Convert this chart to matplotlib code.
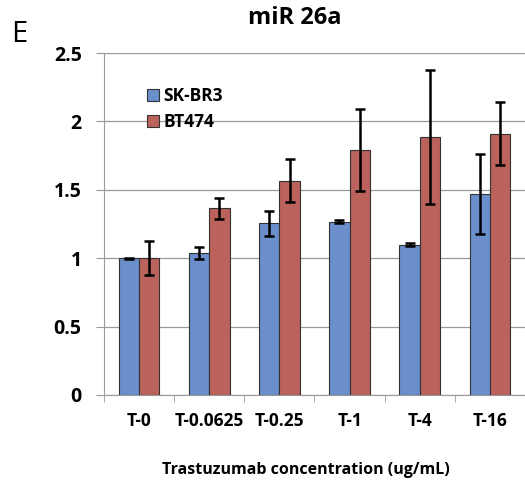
import numpy as np
import matplotlib
matplotlib.use("Agg")
import matplotlib.pyplot as plt

categories = ["T-0", "T-0.0625", "T-0.25", "T-1", "T-4", "T-16"]
skbr3 = [1.00, 1.04, 1.255, 1.267, 1.10, 1.47]
skbr3_err = [0.005, 0.045, 0.09, 0.01, 0.01, 0.29]
bt474 = [1.00, 1.365, 1.567, 1.79, 1.884, 1.91]
bt474_err = [0.125, 0.075, 0.155, 0.30, 0.49, 0.23]
yticks = [0, 0.5, 1, 1.5, 2, 2.5]
ytick_labels = ["0", "0.5", "1", "1.5", "2", "2.5"]

plt.rcParams['font.family'] = ['Open Sans', 'DejaVu Sans']

fig = plt.figure(figsize=(5.25, 4.82), dpi=100)
ax = fig.add_axes([0.198, 0.1805, 0.802, 0.7095])

x = np.arange(len(categories))
w = 0.29
ax.bar(x - w / 2, skbr3, w, color="#6b8fcb", edgecolor="#333333", linewidth=0.8,
       yerr=skbr3_err, capsize=3.5, error_kw={"elinewidth": 1.8, "capthick": 1.8, "ecolor": "black"},
       label="SK-BR3", zorder=3)
ax.bar(x + w / 2, bt474, w, color="#ba625b", edgecolor="#333333", linewidth=0.8,
       yerr=bt474_err, capsize=3.5, error_kw={"elinewidth": 1.8, "capthick": 1.8, "ecolor": "black"},
       label="BT474", zorder=3)

ax.set_xlim(-0.5, len(categories) - 0.5)
ax.set_ylim(0, 2.5)
ax.set_yticks(yticks)
ax.set_yticklabels(ytick_labels, fontsize=14, fontweight="bold")
ax.yaxis.grid(True, color="#999999", linewidth=0.9, zorder=0)
ax.set_axisbelow(True)

ax.set_xticks(x)
ax.set_xticklabels(categories, fontsize=12.5, fontweight="bold")
ax.set_xticks(np.arange(len(categories) + 1) - 0.5, minor=True)
ax.tick_params(axis="x", which="major", length=0, pad=12)
ax.tick_params(axis="x", which="minor", length=5, color="#999999")
ax.tick_params(axis="y", length=6, color="#999999", pad=10)

for s in ["top", "right"]:
    ax.spines[s].set_visible(False)
ax.spines["left"].set_color("#999999")
ax.spines["bottom"].set_color("#999999")

ax.set_xlabel("Trastuzumab concentration (ug/mL)", fontsize=11.5, fontweight="bold")
ax.xaxis.set_label_coords(0.48, -0.197)
fig.text(0.562, 0.962, "miR 26a", ha="center", va="center", fontsize=17, fontweight="bold")
fig.text(0.022, 0.928, "E", ha="left", va="center", fontsize=21)

ax.legend(loc="upper left", bbox_to_anchor=(0.085, 0.92), frameon=False, prop={"weight": "bold", "size": 12.5},
          handlelength=0.7, handleheight=0.7, handletextpad=0.25, labelspacing=0.45, borderaxespad=0)

fig.savefig("out.png", dpi=100)
